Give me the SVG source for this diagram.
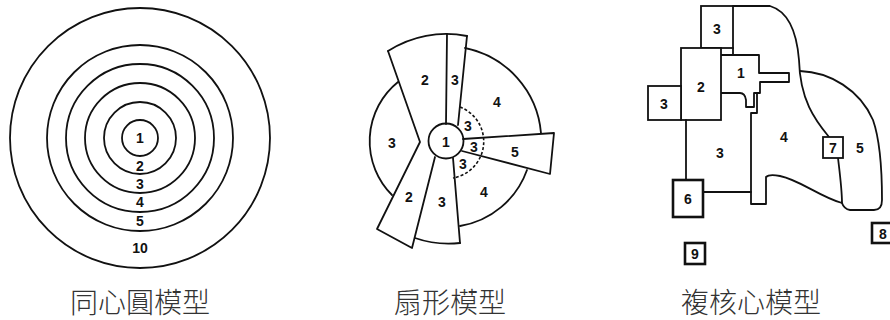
<svg xmlns="http://www.w3.org/2000/svg" width="890" height="320" viewBox="0 0 890 320">
<style>
.ln{fill:none;stroke:#111;stroke-width:1.8;stroke-linejoin:round;stroke-linecap:round}
.bx{fill:#fff;stroke:#111;stroke-width:1.8}
.bb{fill:#fff;stroke:#111;stroke-width:2.6}
.dash{fill:none;stroke:#111;stroke-width:1.6;stroke-dasharray:3 2}
.n{font-family:"Liberation Sans","DejaVu Sans",sans-serif;font-size:14px;font-weight:bold;fill:#111;text-anchor:middle;dominant-baseline:central}
.t{font-family:"Noto Sans CJK TC","Noto Sans CJK SC",sans-serif;font-size:28px;font-weight:200;fill:#333;text-anchor:middle}
</style>
<rect width="890" height="320" fill="#fff"/>

<g id="concentric">
<circle class="ln" cx="140" cy="138" r="130"/>
<circle class="ln" cx="140" cy="138" r="93"/>
<circle class="ln" cx="140" cy="138" r="74"/>
<circle class="ln" cx="140" cy="138" r="55"/>
<circle class="ln" cx="140" cy="138" r="36"/>
<circle class="ln" cx="140" cy="138" r="18"/>
<text class="n" x="140" y="138">1</text>
<text class="n" x="140" y="166">2</text>
<text class="n" x="140" y="184">3</text>
<text class="n" x="140" y="202">4</text>
<text class="n" x="140" y="221">5</text>
<text class="n" x="140" y="248">10</text>
<text class="t" x="140" y="313">同心圓模型</text>
</g>

<g id="sector">
<path class="ln" d="M388,51 A107,107 0 0 1 467,36"/>
<path class="ln" d="M447,34 L446,124"/>
<path class="ln" d="M467,36 L458,125"/>
<path class="ln" d="M465,48 A95,95 0 0 1 541,133"/>
<path class="ln" d="M463,139 L554,133 L550,174 L462,151"/>
<path class="ln" d="M527,170 A86,86 0 0 1 460,226"/>
<path class="ln" d="M453,158 L460,243"/>
<path class="ln" d="M415,238 A102,102 0 0 0 460,243"/>
<path class="ln" d="M435,157 L412,248 L377,229 L420,142 L388,51"/>
<path class="ln" d="M398,82 A76,76 0 0 0 392,195"/>
<path class="dash" d="M460,107 A37,37 0 0 1 453,178"/>
<circle class="ln" cx="446" cy="141" r="17.5" fill="#fff"/>
<text class="n" x="446" y="142">1</text>
<text class="n" x="425" y="80">2</text>
<text class="n" x="455" y="80">3</text>
<text class="n" x="497" y="102">4</text>
<text class="n" x="392" y="143">3</text>
<text class="n" x="468" y="126">3</text>
<text class="n" x="474" y="147">3</text>
<text class="n" x="515" y="152">5</text>
<text class="n" x="463" y="164">3</text>
<text class="n" x="409" y="197">2</text>
<text class="n" x="442" y="202">3</text>
<text class="n" x="484" y="192">4</text>
<text class="t" x="450" y="313">扇形模型</text>
</g>

<g id="multinuclei">
<path class="ln" d="M733,6 L770,6 C790,12 797,35 799,60 C800,100 815,120 829,137"/>
<path class="ln" d="M800,71 C830,72 860,90 873,120 C880,140 882,170 882,200 Q882,210 874,210 L850,210 Q844,209 842,203"/>
<path class="ln" d="M838,158 C840,175 842,190 842,203 C820,197 800,180 780,176 Q769,174 766,177 L766,204 L751,204 L751,113 L757,113 L757,93"/>
<path class="ln" d="M733,48 L733,55"/>
<path class="ln" d="M721,55 L759,55 L759,73 L789,73 L789,82 L760,82 L760,93 L754,93 L754,107 L746,107 L746,100 Q745,93 740,93 L721,93"/>
<rect class="bx" x="701" y="6" width="32" height="42"/>
<rect class="bx" x="681" y="48" width="40" height="72"/>
<rect class="bx" x="648" y="86" width="33" height="34"/>
<path class="ln" d="M686,120 L686,180"/>
<path class="ln" d="M703,192 L751,192"/>
<rect class="bb" x="673" y="180" width="30" height="37"/>
<rect class="bx" x="823" y="137" width="20" height="21"/>
<rect class="bb" x="872" y="223" width="22" height="20"/>
<rect class="bb" x="685" y="243" width="20" height="21"/>
<text class="n" x="717" y="29">3</text>
<text class="n" x="701" y="87">2</text>
<text class="n" x="664" y="104">3</text>
<text class="n" x="741" y="73">1</text>
<text class="n" x="720" y="153">3</text>
<text class="n" x="784" y="137">4</text>
<text class="n" x="833" y="148">7</text>
<text class="n" x="860" y="148">5</text>
<text class="n" x="688" y="199">6</text>
<text class="n" x="883" y="234">8</text>
<text class="n" x="695" y="254">9</text>
<text class="t" x="751" y="313">複核心模型</text>
</g>
</svg>
